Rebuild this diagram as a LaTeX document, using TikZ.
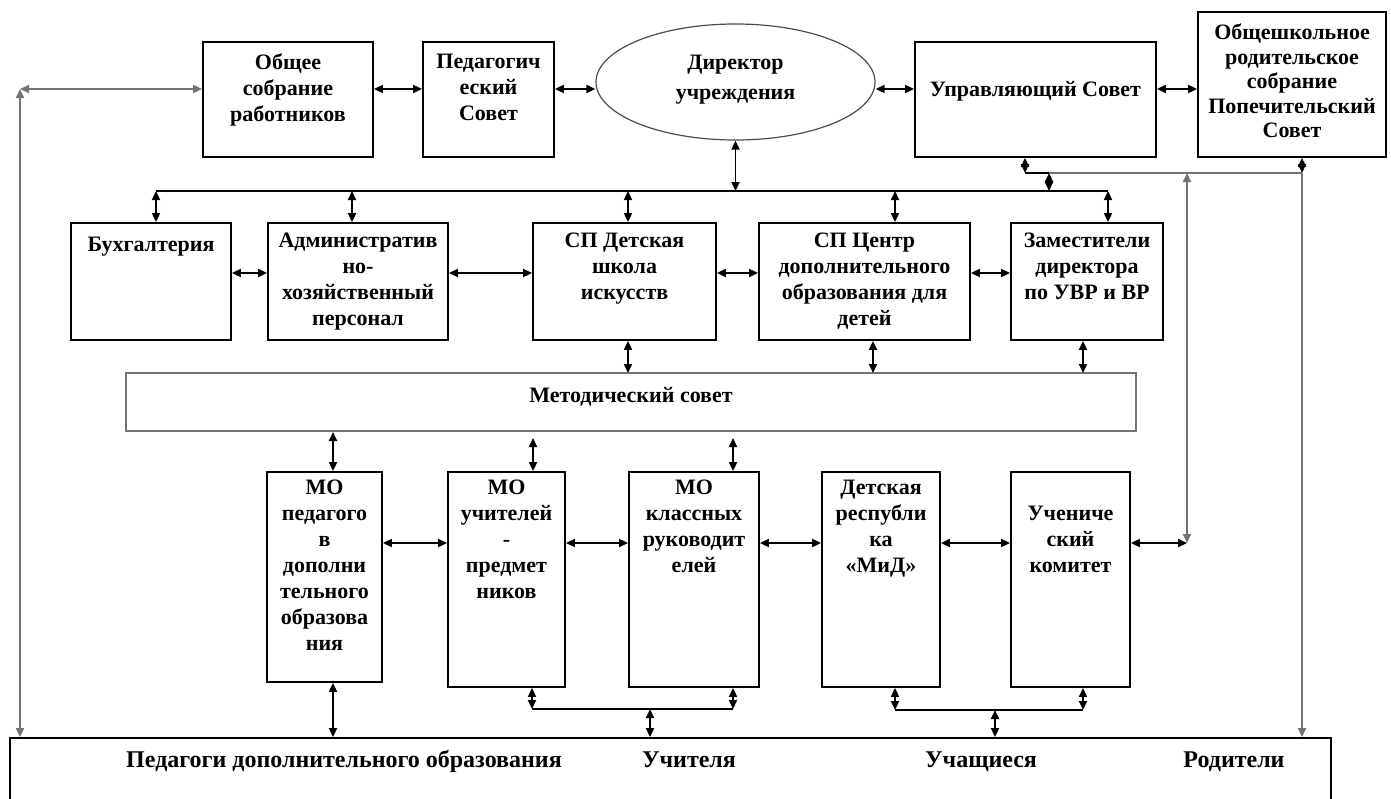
\documentclass[tikz,border=0pt]{standalone}
\usepackage{fontspec}
\setmainfont{Liberation Serif}
\usetikzlibrary{arrows.meta,positioning,shapes.geometric}

\begin{document}
\begin{tikzpicture}[x = 0.5pt, y = -0.5pt, line width = 0.9pt,
                        >= {Triangle[length = 4.5pt, width = 4pt]},
                        box/.style = {draw, rectangle, inner sep = 0pt},
                        oval/.style = {draw = black!70, line width = 0.6pt, ellipse, inner sep = 0pt},
                        txt/.style = {align = center, inner sep = 0pt, font = \fontsize{11}{13}\selectfont\bfseries,
                                      execute at begin node = \strut},
                        gline/.style = {draw = black!55}]
      \useasboundingbox (0, 0) rectangle (1391, 798);

      % top row
      \node [box, minimum width = 85pt, minimum height = 57.5pt] (obsh) at (288, 99.5){};
      \node [txt, below = 6pt of obsh.north] (obsh-t){Общее\\собрание\\работников};
      \node [box, minimum width = 65.5pt, minimum height = 57.5pt] (ped) at (488.5, 99.5){};
      \node [txt, below = 6pt of ped.north] (ped-t){Педагогич\\еский\\Совет};
      \node [txt, oval, font = \fontsize{11}{15}\selectfont\bfseries,
             minimum width = 139.5pt, minimum height = 58pt] (dir) at (735.5, 82){Директор\\учреждения};
      \node [box, minimum width = 120.5pt, minimum height = 57.5pt] (upr) at (1035.5, 99.5){};
      \node [txt] (upr-t) at (1035.5, 91){Управляющий Совет};
      \node [txt, box, font = \fontsize{11}{12.25}\selectfont\bfseries,
             minimum width = 94pt, minimum height = 72.5pt] (shk) at (1292, 84.5)
            {Общешкольное\\родительское\\собрание\\Попечительский\\Совет};

      % second row
      \node [box, minimum width = 80pt, minimum height = 58.5pt] (buh) at (151, 281.5){};
      \node [txt, below = 5pt of buh.north] (buh-t){Бухгалтерия};
      \node [box, minimum width = 90pt, minimum height = 58.5pt] (adm) at (358, 281.5){};
      \node [txt, below = 5pt of adm.north] (adm-t){Административ\\но-\\хозяйственный\\персонал};
      \node [box, minimum width = 91.5pt, minimum height = 58.5pt] (spd) at (624.5, 281.5){};
      \node [txt, below = 5pt of spd.north] (spd-t){СП Детская\\школа\\искусств};
      \node [box, minimum width = 105.5pt, minimum height = 58.5pt] (spc) at (864.5, 281.5){};
      \node [txt, below = 5pt of spc.north] (spc-t){СП Центр\\дополнительного\\образования для\\детей};
      \node [box, minimum width = 76pt, minimum height = 58.5pt] (zam) at (1087, 281.5){};
      \node [txt, below = 5pt of zam.north] (zam-t){Заместители\\директора\\по УВР и ВР};

      \node [box, draw = black!55, minimum width = 505pt, minimum height = 29pt] (met) at (631, 402){};
      \node [txt] (met-t) at (631, 397){Методический совет};

      % third row
      \node [box, minimum width = 57.5pt, minimum height = 105pt] (mop) at (324.5, 577){};
      \node [txt, below = 4pt of mop.north] (mop-t){МО\\педагого\\в\\дополни\\тельного\\образова\\ния};
      \node [box, minimum width = 58.5pt, minimum height = 107.5pt] (mou) at (506.5, 579.5){};
      \node [txt, below = 4pt of mou.north] (mou-t){МО\\учителей\\-\\предмет\\ников};
      \node [box, minimum width = 65pt, minimum height = 107.5pt] (mok) at (694, 579.5){};
      \node [txt, below = 4pt of mok.north] (mok-t){МО\\классных\\руководит\\елей};
      \node [box, minimum width = 59pt, minimum height = 107.5pt] (det) at (881, 579.5){};
      \node [txt, below = 4pt of det.north] (det-t){Детская\\республи\\ка\\«МиД»};
      \node [box, minimum width = 59.5pt, minimum height = 107.5pt] (uch) at (1070.5, 579.5){};
      \node [txt, below = 17pt of uch.north] (uch-t){Учениче\\ский\\комитет};

      % bottom box
      \node [box, minimum width = 660.5pt, minimum height = 46pt] (bot) at (670.5, 784){};
      \node [txt, font = \fontsize{12}{14}\selectfont\bfseries] (bot-a) at (344, 762){Педагоги дополнительного образования};
      \node [txt, font = \fontsize{12}{14}\selectfont\bfseries] (bot-b) at (689, 762){Учителя};
      \node [txt, font = \fontsize{12}{14}\selectfont\bfseries] (bot-c) at (981, 762){Учащиеся};
      \node [txt, font = \fontsize{12}{14}\selectfont\bfseries] (bot-d) at (1234, 762){Родители};

      % top row links
      \coordinate (lc) at (20, 89);
      \draw [gline, <->] (lc) -- (obsh.west |- lc);
      \draw [gline, <->] (lc) -- (lc |- bot.north);
      \draw [<->] (obsh.east |- lc) -- (ped.west |- lc);
      \draw [<->] (ped.east |- lc) -- (dir.west |- lc);
      \draw [<->] (dir.east |- lc) -- (upr.west |- lc);
      \draw [<->] (upr.east |- lc) -- (shk.west |- lc);

      % director bus
      \coordinate (busl) at (156, 191);
      \coordinate (busr) at (1108, 191);
      \draw (busl) -- (busr);
      \draw [<->] (dir.south) -- (dir.south |- busl);
      \foreach \n/\x in {buh/156, adm/352, spd/628, spc/895, zam/1108}{
        \coordinate (t\n) at (\x, 191);
        \draw [<->] (t\n) -- (t\n |- \n.north);
      }
      \coordinate (r2) at (0, 273);
      \foreach \a/\b in {buh/adm, adm/spd, spd/spc, spc/zam}
        \draw [<->] (\a.east |- r2) -- (\b.west |- r2);
      \foreach \n/\x in {spd/628, spc/873, zam/1083}{
        \coordinate (m\n) at (\x, 373);
        \draw [<->] (m\n |- \n.south) -- (m\n);
      }

      % council to MO
      \foreach \n/\x/\y in {mop/333/432, mou/533/438, mok/733/438}{
        \coordinate (k\n) at (\x, \y);
        \draw [<->] (k\n) -- (k\n |- \n.north);
      }
      \coordinate (r3) at (0, 543);
      \foreach \a/\b in {mop/mou, mou/mok, mok/det, det/uch}
        \draw [<->] (\a.east |- r3) -- (\b.west |- r3);
      \coordinate (rc) at (1187, 543);
      \draw [<->] (uch.east |- rc) -- (rc);

      % line under the governing council
      \coordinate (g1) at (1025, 173);
      \coordinate (g2) at (1049, 173);
      \coordinate (g3) at (1187, 173);
      \coordinate (g4) at (1302, 173);
      \draw [<->] (g1 |- upr.south) -- (g1);
      \draw (g1) -- (g2);
      \draw [gline] (g2) -- (g4);
      \draw [<->] (g2) -- (g2 |- busl);
      \draw [gline, <->] (g3) -- (rc);
      \draw [<->] (g4 |- shk.south) -- (g4);
      \draw [gline, ->] (g4) -- (g4 |- bot.north);

      % down to the bottom box
      \draw [<->] (kmop |- mop.south) -- (kmop |- bot.north);
      \coordinate (u1) at (532, 709);
      \coordinate (u2) at (733, 709);
      \coordinate (u3) at (650, 709);
      \draw [<->] (u1 |- mou.south) -- (u1);
      \draw [<->] (u2 |- mok.south) -- (u2);
      \draw (u1) -- (u2);
      \draw [<->] (u3) -- (u3 |- bot.north);
      \coordinate (v1) at (895, 710);
      \coordinate (v2) at (1083, 710);
      \coordinate (v3) at (995, 710);
      \draw [<->] (v1 |- det.south) -- (v1);
      \draw [<->] (v2 |- uch.south) -- (v2);
      \draw (v1) -- (v2);
      \draw [<->] (v3) -- (v3 |- bot.north);

      \end{tikzpicture}
\end{document}
